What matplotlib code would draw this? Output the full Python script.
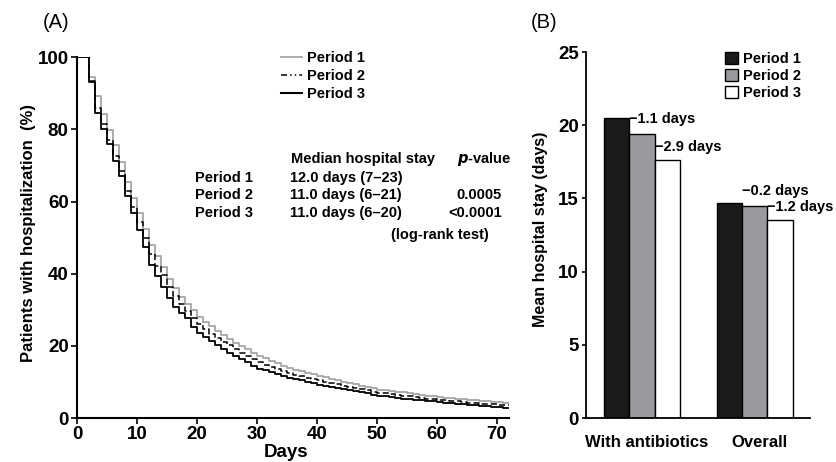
import numpy as np
import matplotlib
matplotlib.use("Agg")
import matplotlib.pyplot as plt
from matplotlib.lines import Line2D
from matplotlib.patches import Patch

plt.rcParams['font.family'] = ['Liberation Sans', 'DejaVu Sans']
plt.rcParams['font.weight'] = 'bold'

# Kaplan-Meier curves, % still hospitalised, one value per day (0..72)
days = list(range(73))
period1 = [100, 100, 94.6, 89.2, 84.2, 79.9, 75.6, 70.9, 65.4, 61.0,
           56.7, 52.4, 47.9, 44.8, 41.8, 38.4, 36.0, 33.6, 31.6, 29.8,
           28.0, 26.7, 25.4, 24.2, 23.0, 21.9, 20.9, 19.9, 19.0, 18.1,
           17.3, 16.6, 15.9, 15.2, 14.5, 13.9, 13.4, 12.9, 12.5, 12.1,
           11.7, 11.3, 10.9, 10.5, 10.1, 9.7, 9.3, 8.9, 8.6, 8.2,
           7.9, 7.7, 7.5, 7.3, 7.1, 6.9, 6.6, 6.4, 6.2, 6.0,
           5.8, 5.6, 5.5, 5.3, 5.2, 5.0, 4.9, 4.8, 4.6, 4.5,
           4.4, 4.3, 4.3]
period2 = [100, 100, 93.5, 86.0, 81.5, 77.0, 72.5, 68.5, 63.0, 58.5,
           54.2, 49.8, 45.4, 42.1, 39.6, 36.4, 33.9, 31.6, 29.6, 27.7,
           26.0, 24.6, 23.4, 22.2, 21.1, 20.1, 19.1, 18.1, 17.2, 16.3,
           15.4, 14.8, 14.2, 13.6, 13.0, 12.5, 12.0, 11.6, 11.2, 10.8,
           10.4, 10.0, 9.7, 9.4, 9.0, 8.7, 8.4, 8.0, 7.7, 7.3,
           7.0, 6.8, 6.6, 6.4, 6.2, 6.0, 5.8, 5.6, 5.4, 5.2,
           5.0, 4.9, 4.7, 4.6, 4.4, 4.3, 4.1, 4.0, 3.9, 3.8,
           3.7, 3.6, 3.6]
period3 = [100, 100, 93.0, 84.4, 80.2, 75.9, 71.2, 67.2, 61.6, 56.9,
           52.0, 47.3, 42.4, 39.4, 36.4, 33.2, 30.8, 29.0, 27.6, 25.3,
           23.6, 22.4, 21.3, 20.1, 19.0, 18.0, 17.1, 16.3, 15.5, 14.5,
           13.7, 13.2, 12.7, 12.2, 11.7, 11.2, 10.8, 10.4, 10.0, 9.6,
           9.2, 8.9, 8.6, 8.3, 8.0, 7.7, 7.4, 7.1, 6.8, 6.5,
           6.2, 6.0, 5.8, 5.6, 5.4, 5.3, 5.1, 5.0, 4.8, 4.6,
           4.5, 4.3, 4.2, 4.0, 3.9, 3.7, 3.5, 3.3, 3.2, 3.1,
           3.0, 2.8, 2.8]

periods = ["Period 1", "Period 2", "Period 3"]
medians = ["12.0 days (7\u201323)", "11.0 days (6\u201321)", "11.0 days (6\u201320)"]
pvalues = ["", "0.0005", "<0.0001"]

# panel B
groups = ["With antibiotics", "Overall"]
stay_p1 = [20.5, 14.7]
stay_p2 = [19.4, 14.5]
stay_p3 = [17.6, 13.5]
diff_p2 = ["\u22121.1 days", "\u22120.2 days"]
diff_p3 = ["\u22122.9 days", "\u22121.2 days"]

fig = plt.figure(figsize=(8.37, 4.62), dpi=100)

# ---- (A) survival curves
ax = fig.add_axes([0.092, 0.0952, 0.516, 0.781])
ax.step(days, period1, where="post", color="#a6a6a6", lw=1.3, label="Period 1")
ax.step(days, period2, where="post", color="black", lw=1.1,
        linestyle=(0, (4, 2)), label="Period 2")
ax.step(days, period3, where="post", color="black", lw=1.3, label="Period 3")

ax.set_xlim(0, 72)
ax.set_ylim(0, 100)
ax.set_xticks(range(0, 71, 10))
ax.set_yticks(range(0, 101, 20))
for s in ["top", "right"]:
    ax.spines[s].set_visible(False)
for s in ["left", "bottom"]:
    ax.spines[s].set_linewidth(1.5)
ax.tick_params(axis="both", labelsize=13.5, width=1.2, length=4, pad=2)
ax.set_xlabel("Days", fontsize=13.5, fontweight="bold")
ax.xaxis.set_label_coords(0.484, -0.072)
ax.set_ylabel("Patients with hospitalization  (%)", fontsize=12, fontweight="bold")
ax.yaxis.set_label_coords(-0.096, 0.512)

handles = [Line2D([], [], color="#a6a6a6", lw=1.3),
           Line2D([], [], color="black", lw=1.1, linestyle=(0, (4, 2, 1, 2, 1, 2))),
           Line2D([], [], color="black", lw=1.5)]
ax.legend(handles, periods, loc="upper left", bbox_to_anchor=(0.472, 1.016),
          frameon=False, fontsize=10.5, handlelength=1.45, handletextpad=0.35,
          labelspacing=0.25, borderpad=0, borderaxespad=0)

fs = 10.5
ax.text(0.495, 0.717, "Median hospital stay", transform=ax.transAxes,
        fontsize=fs, va="center", ha="left")
ax.text(0.944, 0.717, "$\\bf{\\it{p}}$-value", transform=ax.transAxes,
        fontsize=fs, va="center", ha="center")
row_y = [0.665, 0.618, 0.568]
for name, med, pv, y in zip(periods, medians, pvalues, row_y):
    ax.text(0.273, y, name, transform=ax.transAxes, fontsize=fs, va="center")
    ax.text(0.493, y, med, transform=ax.transAxes, fontsize=fs, va="center")
    ax.text(0.983, y, pv, transform=ax.transAxes, fontsize=fs, va="center", ha="right")
ax.text(0.840, 0.507, "(log-rank test)", transform=ax.transAxes,
        fontsize=fs, va="center", ha="center")

fig.text(0.051, 0.952, "(A)", fontsize=14.5, fontweight="normal", va="center")

# ---- (B) mean stay bars
bx = fig.add_axes([0.7001, 0.0952, 0.2676, 0.792])
centers = np.array([0.0, 4.45])
bw = 1.0
bx.bar(centers - bw, stay_p1, bw, color="#1a1a1a", edgecolor="black", lw=1.0)
bx.bar(centers, stay_p2, bw, color="#9b9b9d", edgecolor="black", lw=1.0)
bx.bar(centers + bw, stay_p3, bw, color="white", edgecolor="black", lw=1.0)

for i in range(len(groups)):
    bx.text(centers[i] - bw / 2, stay_p2[i] + 1.0, diff_p2[i], fontsize=10.5,
            ha="left", va="center")
    bx.text(centers[i] + bw / 2, stay_p3[i] + 0.95, diff_p3[i], fontsize=10.5,
            ha="left", va="center")

bx.set_xlim(-2.21, 6.64)
bx.set_ylim(0, 25)
bx.set_yticks(range(0, 26, 5))
bx.set_xticks(centers + 0.2)
bx.set_xticklabels(groups)
for s in ["top", "right"]:
    bx.spines[s].set_visible(False)
for s in ["left", "bottom"]:
    bx.spines[s].set_linewidth(1.3)
bx.tick_params(axis="y", labelsize=13.5, width=1.2, length=3, pad=2)
bx.tick_params(axis="x", labelsize=12, length=0, pad=12)
bx.set_ylabel("Mean hospital stay (days)", fontsize=11.5, fontweight="bold")
bx.yaxis.set_label_coords(-0.17, 0.516)

bhandles = [Patch(facecolor="#1a1a1a", edgecolor="black"),
            Patch(facecolor="#9b9b9d", edgecolor="black"),
            Patch(facecolor="white", edgecolor="black")]
bx.legend(bhandles, periods, loc="upper left", bbox_to_anchor=(0.62, 1.0),
          frameon=False, fontsize=10.5, handlelength=0.9, handleheight=0.9,
          handletextpad=0.35, labelspacing=0.2, borderpad=0, borderaxespad=0)

fig.text(0.634, 0.952, "(B)", fontsize=14.5, fontweight="normal", va="center")

fig.savefig("out.png", dpi=100)
